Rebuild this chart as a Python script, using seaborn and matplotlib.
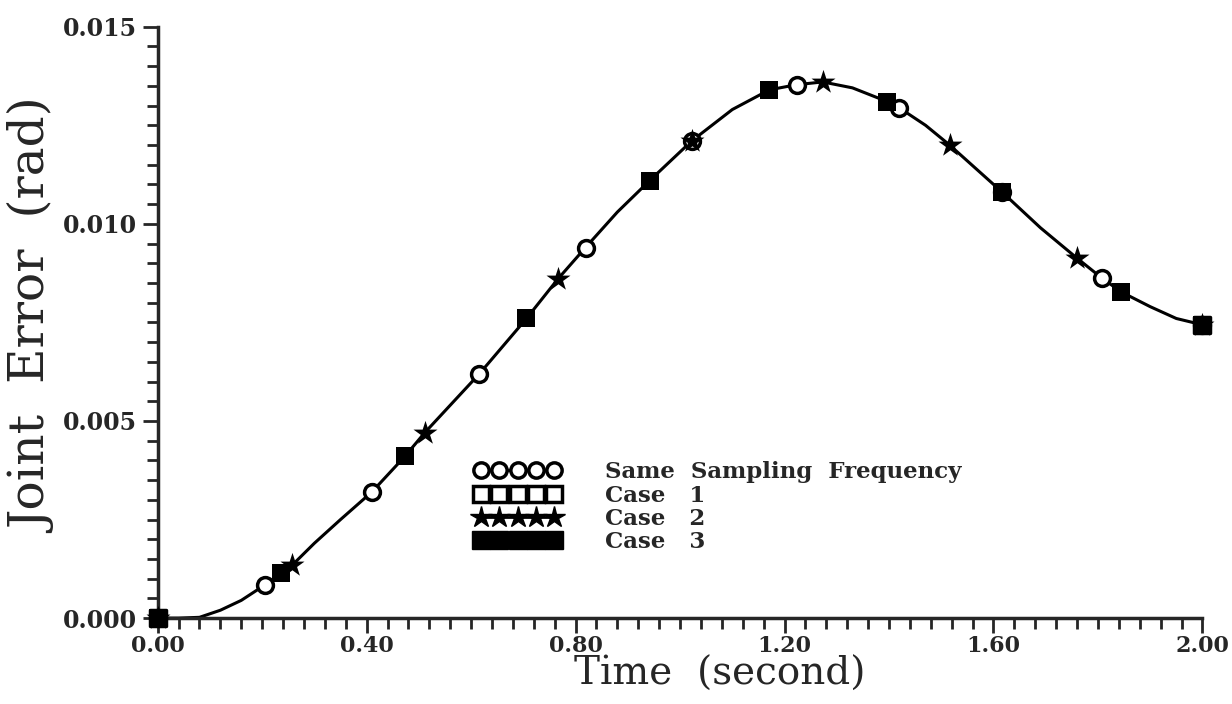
import matplotlib
matplotlib.use('Agg')
import matplotlib.pyplot as plt
from matplotlib.lines import Line2D
from matplotlib.ticker import MultipleLocator, FormatStrFormatter
import seaborn as sns
import pandas as pd

# continuous joint error curve
curve_t = [0.0, 0.04, 0.08, 0.12, 0.16, 0.205, 0.237, 0.258, 0.30, 0.35, 0.41, 0.473, 0.511,
           0.56, 0.616, 0.706, 0.766, 0.819, 0.88, 0.942, 1.022, 1.10, 1.171, 1.223, 1.273,
           1.33, 1.397, 1.42, 1.47, 1.516, 1.617, 1.69, 1.759, 1.807, 1.845, 1.90, 1.95, 2.0]
curve_e = [0.0, 0.0, 0.00002, 0.0002, 0.00045, 0.00084, 0.00114, 0.00135, 0.0019, 0.0025,
           0.0032, 0.0041, 0.0047, 0.0054, 0.0062, 0.0076, 0.0086, 0.0094, 0.0103, 0.0111,
           0.0121, 0.0129, 0.0134, 0.01353, 0.0136, 0.01345, 0.0131, 0.01294, 0.0125, 0.0120,
           0.0108, 0.0099, 0.00914, 0.00863, 0.00827, 0.0079, 0.0076, 0.00744]

# sampled points for each case
same_t = [0.0, 0.205, 0.41, 0.616, 0.819, 1.022, 1.223, 1.42, 1.617, 1.807, 2.0]
same_e = [0.0, 0.00084, 0.0032, 0.0062, 0.0094, 0.0121, 0.01353, 0.01294, 0.0108, 0.00863, 0.00744]

case1_t = [0.0, 2.0]
case1_e = [0.0, 0.00744]

case2_t = [0.0, 0.258, 0.511, 0.766, 1.022, 1.273, 1.516, 1.759, 2.0]
case2_e = [0.0, 0.00135, 0.0047, 0.0086, 0.0121, 0.0136, 0.0120, 0.00914, 0.00744]

case3_t = [0.0, 0.237, 0.473, 0.706, 0.942, 1.171, 1.397, 1.617, 1.845, 2.0]
case3_e = [0.0, 0.00114, 0.0041, 0.0076, 0.0111, 0.0134, 0.0131, 0.0108, 0.00827, 0.00744]

labels = ['Same  Sampling  Frequency', 'Case   1', 'Case   2', 'Case   3']

sns.set_style('ticks')
plt.rcParams['font.family'] = ['DejaVu Serif']

fig = plt.figure(figsize=(12.32, 7.04), dpi=100)
ax = fig.add_axes([0.128, 0.122, 0.848, 0.84])

sns.lineplot(data=pd.DataFrame({'t': curve_t, 'e': curve_e}), x='t', y='e',
             color='black', linewidth=2.2, ax=ax, sort=True)

styles = [
    (same_t, same_e, dict(marker='o', s=130, facecolor='white', edgecolor='black', linewidth=2.5)),
    (case1_t, case1_e, dict(marker='s', s=130, facecolor='white', edgecolor='black', linewidth=2.5)),
    (case2_t, case2_e, dict(marker='*', s=330, color='black', linewidth=0)),
    (case3_t, case3_e, dict(marker='s', s=160, color='black', linewidth=0)),
]
for t, e, kw in styles:
    sns.scatterplot(x=t, y=e, ax=ax, zorder=3, clip_on=False, **kw)

ax.set_xlim(0, 2.0)
ax.set_ylim(0, 0.015)
ax.xaxis.set_major_locator(MultipleLocator(0.4))
ax.xaxis.set_minor_locator(MultipleLocator(0.04))
ax.yaxis.set_major_locator(MultipleLocator(0.005))
ax.yaxis.set_minor_locator(MultipleLocator(0.0005))
ax.xaxis.set_major_formatter(FormatStrFormatter('%.2f'))
ax.yaxis.set_major_formatter(FormatStrFormatter('%.3f'))
ax.tick_params(which='major', direction='out', length=11, width=2, labelsize=17, pad=4)
ax.tick_params(which='minor', direction='out', length=8, width=2)
ax.tick_params(axis='x', which='major', labelsize=16, pad=1)
for lab in ax.get_xticklabels() + ax.get_yticklabels():
    lab.set_fontweight('bold')

sns.despine(ax=ax)
for sp in ['left', 'bottom']:
    ax.spines[sp].set_linewidth(2.5)

ax.set_xlabel('Time  (second)', fontsize=28)
ax.set_ylabel('Joint  Error  (rad)', fontsize=35)
ax.xaxis.set_label_coords(0.538, -0.063)
ax.yaxis.set_label_coords(-0.095, 0.51)

handles = [
    Line2D([], [], color='black', lw=2, marker='o', markersize=11, markerfacecolor='white',
           markeredgewidth=2.5),
    Line2D([], [], color='black', lw=2, marker='s', markersize=11, markerfacecolor='white',
           markeredgewidth=2.5),
    Line2D([], [], color='black', lw=2, marker='*', markersize=16),
    Line2D([], [], color='black', lw=2, marker='s', markersize=13),
]
leg = ax.legend(handles, labels, loc='upper left', bbox_to_anchor=(0.283, 0.30), frameon=False,
                numpoints=5, handlelength=3.8, handletextpad=1.9, labelspacing=0.06,
                prop={'size': 16.5, 'weight': 'bold'})

fig.savefig('out.png', dpi=100)
